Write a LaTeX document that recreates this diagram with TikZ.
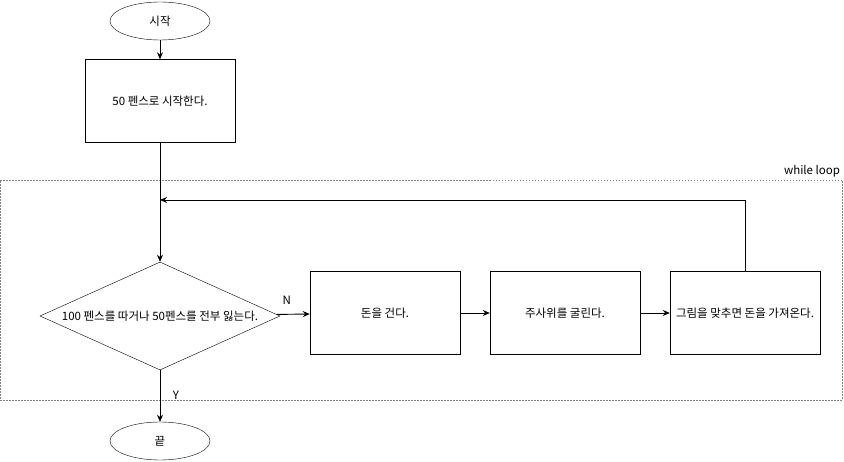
\documentclass[tikz,border=0pt]{standalone}
\usepackage{fontspec}
\setmainfont{Noto Sans CJK KR}
\usepackage{tikz}
\usetikzlibrary{shapes.geometric, arrows.meta}

\begin{document}
\begin{tikzpicture}[x=1pt, y=-1pt, font=\fontsize{11.5}{13}\selectfont,
            term/.style={draw, ellipse, minimum width=100pt, minimum height=38pt, inner sep=0pt},
            proc/.style={draw, rectangle, minimum width=150pt, minimum height=83pt, inner sep=0pt},
            cond/.style={draw, diamond, shape aspect=2.22, minimum width=240pt, minimum height=108pt, inner sep=0pt},
            flow/.style={-{Stealth[length=7pt, width=6pt]}, line width=0.9pt},
            frame/.style={draw=gray, dash pattern=on 1.5pt off 1.5pt, minimum width=842pt, minimum height=220pt, inner sep=0pt}]
            \useasboundingbox (0,0) rectangle (844,462);

            % while loop frame
            \node[frame] (loopframe) at (421,290) {};
            \node[anchor=south east, inner sep=2pt] (looplabel) at (loopframe.north east) {while loop};

            \node[term] (start) at (160,21) {시작};
            \node[proc] (init) at (160,101) {50 펜스로 시작한다.};
            \node[cond] (test) at (160,316) {100 펜스를 따거나 50펜스를 전부 잃는다.};
            \node[proc] (bet) at (385,313) {돈을 건다.};
            \node[proc] (roll) at (565,313) {주사위를 굴린다.};
            \node[proc] (take) at (745,313) {그림을 맞추면 돈을 가져온다.};
            \node[term] (stop) at (160,441) {끝};
            \coordinate (back) at (160,200);

            \draw[flow] (start) -- (init);
            \draw[flow] (init) -- (test);
            \draw[flow] (test) -- node[pos=0.3, above=6pt] {N} (bet);
            \draw[flow] (test) -- node[pos=0.48, right=9pt] {Y} (stop);
            \draw[flow] (bet) -- (roll);
            \draw[flow] (roll) -- (take);
            \draw[flow] (take) |- (back);
        \end{tikzpicture}
\end{document}
